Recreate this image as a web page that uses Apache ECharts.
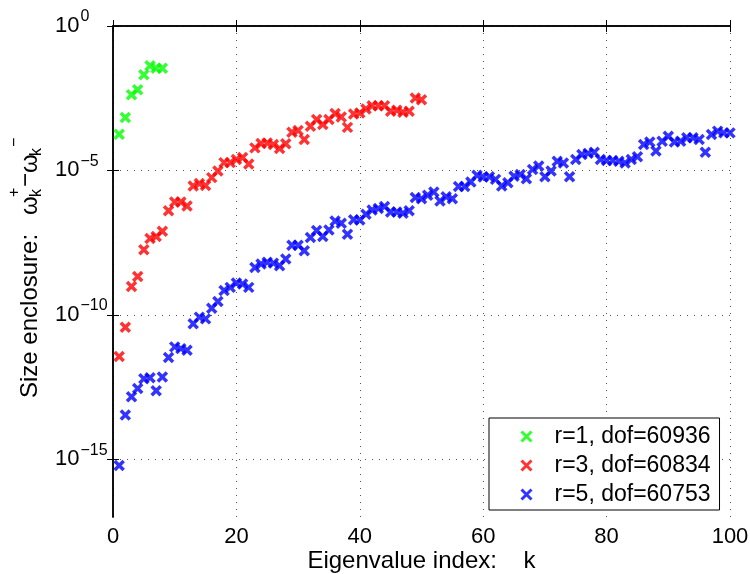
<!DOCTYPE html>
<html>
<head>
<meta charset="utf-8">
<script src="https://cdn.jsdelivr.net/npm/echarts@6/dist/echarts.min.js"></script>
<style>
  html, body { margin: 0; padding: 0; background: #fff; }
  #chart { width: 750px; height: 574px; }
</style>
</head>
<body>
<div id="chart"></div>
<script>
// exponents (log10 of the enclosure size) for k = 1, 2, ...
const r1Exp = [-3.75, -3.17, -2.38, -2.21, -1.69, -1.38, -1.46, -1.46]
const r3Exp = [
  -11.44, -10.43, -9.02, -8.67, -7.75, -7.36, -7.29, -7.11, -6.40, -6.09,
  -6.09, -6.23, -5.54, -5.45, -5.52, -5.25, -5.02, -4.73, -4.73, -4.62,
  -4.55, -4.78, -4.22, -4.07, -4.05, -4.10, -4.24, -4.08, -3.68, -3.62,
  -3.93, -3.47, -3.24, -3.41, -3.24, -3.03, -3.15, -3.51, -3.05, -3.01,
  -2.87, -2.76, -2.76, -2.76, -2.95, -2.92, -2.99, -2.95, -2.49, -2.55
]
const r5Exp = [
  -15.22, -13.47, -12.84, -12.55, -12.21, -12.18, -12.63, -12.15, -11.48, -11.11,
  -11.17, -11.23, -10.31, -10.08, -10.14, -9.77, -9.54, -9.16, -9.05, -8.90,
  -8.93, -9.05, -8.36, -8.24, -8.18, -8.21, -8.30, -8.07, -7.59, -7.59,
  -7.78, -7.32, -7.08, -7.29, -7.06, -6.75, -6.83, -7.21, -6.71, -6.72,
  -6.52, -6.37, -6.32, -6.25, -6.44, -6.44, -6.48, -6.40, -5.94, -5.98,
  -5.86, -5.75, -6.06, -5.91, -5.98, -5.56, -5.56, -5.40, -5.17, -5.23,
  -5.22, -5.31, -5.54, -5.43, -5.20, -5.14, -5.29, -4.97, -4.85, -5.22,
  -5.02, -4.68, -4.74, -5.22, -4.62, -4.45, -4.41, -4.37, -4.62, -4.66,
  -4.66, -4.68, -4.74, -4.62, -4.53, -4.10, -4.02, -4.33, -3.99, -3.82,
  -4.02, -3.99, -3.87, -3.87, -3.93, -4.37, -3.76, -3.64, -3.70, -3.70
]
const seriesNames = ['r=1, dof=60936', 'r=3, dof=60834', 'r=5, dof=60753']
const seriesColors = ['#00ff00', '#ff0000', '#0000ff']
// decades that carry a tick / label / grid line on the log axis
const yTickExps = [0, -5, -10, -15]

const FONT = '"Liberation Sans", Arial, Helvetica, sans-serif'
const CROSS = 'path://M0,0L10,10M10,0L0,10'

// y axis works in log10 space, labels are drawn as 10^e
const toPoints = exps => exps.map((e, i) => [i + 1, e])

const chart = echarts.init(document.getElementById('chart'))

const frameLine = { show: true, lineStyle: { color: '#000', width: 1.5 } }
const inTick = { show: true, inside: true, length: 6, lineStyle: { color: '#000', width: 1 } }
const dotted = { show: true, lineStyle: { color: '#555', width: 1, type: [1, 6] } }

const series = [r1Exp, r3Exp, r5Exp].map((exps, i) => ({
  name: seriesNames[i],
  type: 'scatter',
  yAxisIndex: 0,
  data: toPoints(exps),
  symbol: CROSS,
  symbolSize: 9,
  itemStyle: { color: 'none', borderColor: seriesColors[i], borderWidth: 3.5 },
  emphasis: { disabled: true }
}))

chart.setOption({
  animation: false,
  grid: { left: 113, right: 20, top: 26, bottom: 57, containLabel: false, outerBoundsMode: 'none' },
  xAxis: [
    {
      type: 'value', min: 0, max: 100, interval: 20,
      name: 'Eigenvalue index:    k',
      nameLocation: 'middle', nameGap: 32, nameMoveOverlap: false,
      nameTextStyle: { fontSize: 24, fontFamily: FONT, color: '#000' },
      axisLine: frameLine, axisTick: inTick,
      axisLabel: { fontSize: 22, fontFamily: FONT, color: '#000', margin: 9 },
      splitLine: dotted
    },
    {
      type: 'value', min: 0, max: 100, interval: 20, position: 'top',
      axisLine: frameLine, axisTick: inTick,
      axisLabel: { show: false }, splitLine: { show: false }
    }
  ],
  yAxis: [
    {
      type: 'value', min: -17, max: 0,
      axisLine: frameLine,
      axisTick: Object.assign({ customValues: yTickExps }, inTick),
      axisLabel: {
        customValues: yTickExps,
        formatter: (v) => '{b|10}{e|' + (v < 0 ? '\u2212' + (-v) : v) + '}',
        align: 'left',
        margin: 58,
        rich: {
          b: { fontSize: 22, fontFamily: FONT, color: '#000', lineHeight: 22, verticalAlign: 'bottom' },
          e: { fontSize: 16, fontFamily: FONT, color: '#000', lineHeight: 16, verticalAlign: 'bottom', padding: [0, 0, 12, 1] }
        }
      },
      splitLine: dotted
    },
    {
      type: 'value', min: -17, max: 0, position: 'right',
      axisLine: frameLine,
      axisTick: Object.assign({ customValues: yTickExps }, inTick),
      axisLabel: { show: false }, splitLine: { show: false }
    }
  ],
  legend: {
    orient: 'vertical',
    left: 489, top: 418,
    padding: [7, 9, 4, 30],
    itemWidth: 10, itemHeight: 10, itemGap: 6,
    backgroundColor: '#fff',
    borderColor: '#000', borderWidth: 1,
    textStyle: { fontSize: 23, fontFamily: FONT, color: '#000', lineHeight: 23, padding: [0, 0, 0, 18] },
    data: seriesNames.map((n, i) => ({
      name: n,
      itemStyle: { color: 'none', borderColor: seriesColors[i], borderWidth: 3 }
    }))
  },
  graphic: [
    {
      type: 'group', x: 37, y: 398, rotation: Math.PI / 2,
      children: [
        { type: 'text', x: 0, y: 5, style: { text: 'Size enclosure:', fontSize: 24, fontFamily: FONT, fill: '#000', verticalAlign: 'bottom' } },
        { type: 'text', x: 183, y: 5, style: { text: '\u03c9', fontSize: 24, fontFamily: FONT, fill: '#000', verticalAlign: 'bottom' } },
        { type: 'text', x: 201, y: -14.5, style: { text: '+', fontSize: 16, fontFamily: FONT, fill: '#000', verticalAlign: 'bottom' } },
        { type: 'text', x: 201, y: 8, style: { text: 'k', fontSize: 16, fontFamily: FONT, fill: '#000', verticalAlign: 'bottom' } },
        { type: 'text', x: 211, y: 1, style: { text: '\u2212', fontSize: 24, fontFamily: FONT, fill: '#000', verticalAlign: 'bottom' } },
        { type: 'text', x: 225, y: 5, style: { text: '\u03c9', fontSize: 24, fontFamily: FONT, fill: '#000', verticalAlign: 'bottom' } },
        { type: 'text', x: 242, y: 8, style: { text: 'k', fontSize: 16, fontFamily: FONT, fill: '#000', verticalAlign: 'bottom' } },
        { type: 'text', x: 251, y: -14.5, style: { text: '\u2212', fontSize: 16, fontFamily: FONT, fill: '#000', verticalAlign: 'bottom' } }
      ]
    }
  ],
  series
})
</script>
</body>
</html>
